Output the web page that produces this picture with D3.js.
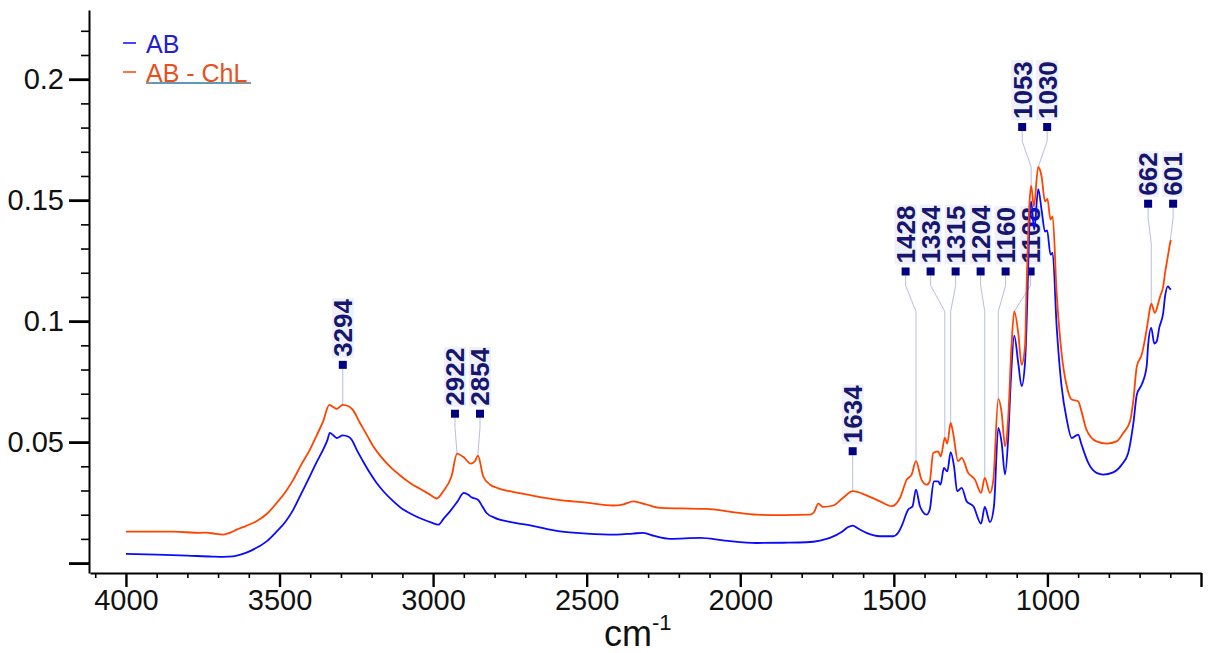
<!DOCTYPE html>
<html>
<head>
<meta charset="utf-8">
<script src="https://cdn.jsdelivr.net/npm/d3@7"></script>
<style>
    body { margin: 0; background: #fff; }
    svg { display: block; font-family: "Liberation Sans", Arial, sans-serif; }
</style>
</head>
<body>
<div id="chart"></div>
<script>
// Series names and colours (legend order)
const seriesNames = ['AB', 'AB - ChL'];

// AB spectrum: [wavenumber (cm-1), absorbance]
const abSpectrum = [
    [4000, 0.0038], [3900, 0.0035], [3800, 0.0031], [3720, 0.0027], [3683, 0.0026],
    [3651, 0.0028], [3610, 0.0042], [3575, 0.0063], [3540, 0.0092], [3509, 0.0131],
    [3480, 0.0172], [3455, 0.0221], [3430, 0.0285], [3401, 0.0359], [3380, 0.0415],
    [3358, 0.0469], [3345, 0.0505], [3336, 0.0538], [3325, 0.0528], [3314, 0.0517],
    [3294, 0.0528], [3275, 0.0522], [3265, 0.0510], [3249, 0.0469], [3230, 0.0425],
    [3206, 0.0373], [3185, 0.0333], [3162, 0.0297], [3130, 0.0256], [3097, 0.0221],
    [3065, 0.0199], [3032, 0.0180], [3005, 0.0167], [2983, 0.0159], [2965, 0.0185],
    [2945, 0.0214], [2922, 0.0252], [2900, 0.0290], [2885, 0.0282], [2875, 0.0272],
    [2854, 0.0262], [2840, 0.0235], [2826, 0.0207], [2799, 0.0187], [2750, 0.0170],
    [2680, 0.0155], [2587, 0.0131], [2500, 0.0122], [2403, 0.0118], [2350, 0.0122],
    [2316, 0.0125], [2280, 0.0112], [2229, 0.0100], [2131, 0.0104], [2050, 0.0093],
    [1947, 0.0083], [1860, 0.0084], [1784, 0.0086], [1740, 0.0093], [1708, 0.0104],
    [1670, 0.0128], [1650, 0.0148], [1634, 0.0155], [1615, 0.0142], [1589, 0.0125],
    [1545, 0.0111], [1502, 0.0111], [1486, 0.0125], [1475, 0.0152], [1453, 0.0221],
    [1439, 0.0235], [1428, 0.0304], [1415, 0.0235], [1393, 0.0200], [1383, 0.0221],
    [1370, 0.0338], [1356, 0.0338], [1348, 0.0324], [1337, 0.0393], [1326, 0.0379],
    [1315, 0.0458], [1304, 0.0400], [1294, 0.0297], [1279, 0.0311], [1263, 0.0255],
    [1241, 0.0235], [1216, 0.0163], [1204, 0.0232], [1187, 0.0169], [1174, 0.0235],
    [1160, 0.0559], [1149, 0.0497], [1138, 0.0366], [1128, 0.0510], [1119, 0.0758],
    [1108, 0.0940], [1095, 0.0827], [1084, 0.0731], [1073, 0.0827], [1068, 0.0979],
    [1063, 0.1200], [1059, 0.1390], [1053, 0.1495], [1043, 0.1378], [1030, 0.1546],
    [1019, 0.1460], [1008, 0.1370], [1001, 0.1375], [990, 0.1275], [983, 0.1282],
    [970, 0.0979], [954, 0.0731], [937, 0.0593], [921, 0.0517], [900, 0.0531],
    [889, 0.0490], [867, 0.0414], [840, 0.0373], [818, 0.0366], [786, 0.0375],
    [758, 0.0407], [737, 0.0455], [720, 0.0579], [709, 0.0696], [693, 0.0738],
    [677, 0.0813], [672, 0.0903], [662, 0.0972], [652, 0.0907], [644, 0.0917],
    [636, 0.0972], [623, 0.1034], [617, 0.1102], [608, 0.1144], [603, 0.1137],
    [598, 0.1130]
];

// AB - ChL spectrum: [wavenumber (cm-1), absorbance]
const chlSpectrum = [
    [4000, 0.0130], [3846, 0.0130], [3759, 0.0125], [3737, 0.0126], [3710, 0.0121],
    [3683, 0.0118], [3660, 0.0126], [3640, 0.0138], [3610, 0.0153], [3575, 0.0173],
    [3540, 0.0205], [3509, 0.0249], [3480, 0.0295], [3455, 0.0345], [3430, 0.0405],
    [3401, 0.0469], [3380, 0.0525], [3358, 0.0586], [3338, 0.0654], [3325, 0.0645],
    [3314, 0.0637], [3294, 0.0654], [3275, 0.0648], [3262, 0.0634], [3238, 0.0579],
    [3215, 0.0528], [3195, 0.0483], [3170, 0.0440], [3141, 0.0400], [3108, 0.0363],
    [3075, 0.0331], [3040, 0.0305], [3010, 0.0283], [2988, 0.0267], [2967, 0.0297],
    [2940, 0.0359], [2922, 0.0452], [2902, 0.0439], [2877, 0.0411], [2864, 0.0421],
    [2854, 0.0444], [2837, 0.0359], [2815, 0.0325], [2790, 0.0310], [2750, 0.0297],
    [2680, 0.0280], [2598, 0.0262], [2500, 0.0250], [2414, 0.0238], [2380, 0.0243],
    [2348, 0.0255], [2310, 0.0244], [2262, 0.0228], [2190, 0.0226], [2110, 0.0224],
    [2030, 0.0212], [1947, 0.0200], [1860, 0.0198], [1773, 0.0200], [1760, 0.0210],
    [1746, 0.0246], [1730, 0.0232], [1697, 0.0238], [1665, 0.0270], [1634, 0.0297],
    [1589, 0.0280], [1545, 0.0255], [1507, 0.0235], [1480, 0.0269], [1458, 0.0345],
    [1442, 0.0366], [1428, 0.0421], [1410, 0.0345], [1393, 0.0324], [1383, 0.0338],
    [1372, 0.0455], [1356, 0.0462], [1347, 0.0441], [1334, 0.0517], [1326, 0.0494],
    [1315, 0.0579], [1307, 0.0538], [1291, 0.0421], [1279, 0.0435], [1258, 0.0373],
    [1236, 0.0345], [1216, 0.0290], [1204, 0.0352], [1187, 0.0290], [1176, 0.0345],
    [1160, 0.0679], [1149, 0.0621], [1138, 0.0483], [1128, 0.0593], [1117, 0.0896],
    [1108, 0.1040], [1095, 0.0951], [1084, 0.0820], [1073, 0.0896], [1068, 0.1130],
    [1059, 0.1474], [1053, 0.1560], [1044, 0.1474], [1030, 0.1637], [1019, 0.1598],
    [1008, 0.1495], [1000, 0.1505], [990, 0.1420], [983, 0.1433], [970, 0.1117],
    [954, 0.0869], [937, 0.0731], [921, 0.0676], [900, 0.0669], [889, 0.0627],
    [873, 0.0552], [840, 0.0503], [807, 0.0494], [775, 0.0503], [753, 0.0538],
    [731, 0.0586], [720, 0.0676], [709, 0.0813], [693, 0.0862], [677, 0.0965],
    [672, 0.1006], [662, 0.1072], [650, 0.1034], [639, 0.1075], [633, 0.1102],
    [623, 0.1144], [617, 0.1199], [606, 0.1282], [601, 0.1320], [598, 0.1335]
];

// Peak labels, grouped the way they are stacked on the plot
const peakGroups = [
    [3294],
    [2922, 2854],
    [1634],
    [1428, 1334, 1315, 1204, 1160, 1108],
    [1053, 1030],
    [662, 601]
];

// Tick values
const xTicks = [4000, 3500, 3000, 2500, 2000, 1500, 1000];
const yTicks = [0.05, 0.1, 0.15, 0.2];

const width = 1209;
const height = 653;
const colors = ['#0a0aff', '#ff4400'];
const labelColor = '#16166e';

const svg = d3.select('#chart')
    .append('svg')
    .attr('width', width)
    .attr('height', height);

// Scales (wavenumber axis reversed)
const x = d3.scaleLinear().domain([4117, 500]).range([90, 1201]);
const y = d3.scaleLinear().domain([-0.0041, 0.2286]).range([573, 10]);

// Linear lookup of a spectrum value at a given wavenumber
function valueAt(series, wn) {
    for (let i = 0; i < series.length - 1; i++) {
        const a = series[i], b = series[i + 1];
        if (wn <= a[0] && wn >= b[0]) {
            const t = (a[0] - wn) / (a[0] - b[0]);
            return a[1] + t * (b[1] - a[1]);
        }
    }
    return series[series.length - 1][1];
}

// X axis: major + minor ticks
const xMinor = d3.range(4100, 500, -100).filter(v => v % 500 !== 0);
svg.append('g')
    .attr('transform', 'translate(0,573)')
    .call(d3.axisBottom(x).tickValues(xMinor).tickSize(5).tickFormat(''))
    .call(g => g.select('.domain').remove())
    .call(g => g.selectAll('line').attr('stroke-width', 1.6));

const xAxis = svg.append('g')
    .attr('transform', 'translate(0,573)')
    .call(d3.axisBottom(x)
        .tickValues([...xTicks, 500])
        .tickFormat(d => d === 500 ? '' : d)
        .tickSize(14)
        .tickSizeOuter(0)
        .tickPadding(2));
xAxis.select('.domain').attr('stroke-width', 2);
xAxis.selectAll('line').attr('stroke-width', 2.4);
xAxis.selectAll('text')
    .attr('font-size', 29)
    .attr('font-family', '"Liberation Sans", Arial, sans-serif')
    .attr('fill', '#111');

// Y axis: major + minor ticks
const yMinor = d3.range(0.01, 0.225, 0.01).filter(v => Math.abs(v * 20 - Math.round(v * 20)) > 1e-6);
svg.append('g')
    .attr('transform', 'translate(89,0)')
    .call(d3.axisLeft(y).tickValues(yMinor).tickSize(8).tickFormat(''))
    .call(g => g.select('.domain').remove())
    .call(g => g.selectAll('line').attr('stroke-width', 1.6));

const yAxis = svg.append('g')
    .attr('transform', 'translate(89,0)')
    .call(d3.axisLeft(y)
        .tickValues([0, ...yTicks])
        .tickFormat(d => d === 0 ? '' : String(d))
        .tickSize(20)
        .tickSizeOuter(0)
        .tickPadding(5));
yAxis.select('.domain').attr('stroke-width', 2);
yAxis.selectAll('line').attr('stroke-width', 2.8);
yAxis.selectAll('text')
    .attr('font-size', 29)
    .attr('font-family', '"Liberation Sans", Arial, sans-serif')
    .attr('fill', '#111');

// X axis title
const xTitle = svg.append('text')
    .attr('x', 604)
    .attr('y', 646)
    .attr('font-size', 36)
    .attr('fill', '#111')
    .text('cm');
xTitle.append('tspan')
    .attr('font-size', 22)
    .attr('dy', -16)
    .text('-1');

// Peak labels: squares, leaders and rotated numbers
const labelG = svg.append('g');
peakGroups.forEach(group => {
    const peaks = group.map(wn => ({ wn, px: x(wn), py: y(valueAt(chlSpectrum, wn)) }));
    const cx = d3.mean(peaks, p => p.px);
    const sy = d3.min(peaks, p => p.py) - 40;
    peaks.forEach((p, i) => {
        const sx = cx + (i - (peaks.length - 1) / 2) * 25;

        // Leader line
        labelG.append('path')
            .attr('d', `M${sx},${sy + 4}L${sx},${sy + 14}L${p.px},${sy + 40}L${p.px},${p.py}`)
            .attr('fill', 'none')
            .attr('stroke', '#b9bde0')
            .attr('stroke-width', 1);

        // Marker square
        labelG.append('rect')
            .attr('x', sx - 4)
            .attr('y', sy - 4)
            .attr('width', 8)
            .attr('height', 8)
            .attr('fill', '#000080');

        // Rotated label with pale background
        const tg = labelG.append('g')
            .attr('transform', `translate(${sx},${sy - 8}) rotate(-90)`);
        const bg = tg.append('rect').attr('fill', '#eef0fa');
        const t = tg.append('text')
            .attr('font-size', 26)
            .attr('font-weight', 'bold')
            .attr('dy', '0.36em')
            .attr('fill', labelColor)
            .text(p.wn);
        const len = t.node().getComputedTextLength();
        bg.attr('x', -1).attr('y', -11).attr('width', len + 2).attr('height', 22);
    });
});

// Spectra
const line = d3.line()
    .x(d => x(d[0]))
    .y(d => y(d[1]))
    .curve(d3.curveMonotoneX);

[abSpectrum, chlSpectrum].forEach((series, i) => {
    svg.append('path')
        .datum(series)
        .attr('d', line)
        .attr('fill', 'none')
        .attr('stroke', colors[i])
        .attr('stroke-width', 1.8)
        .attr('stroke-linejoin', 'round');
});

// Legend
const legend = svg.append('g');
seriesNames.forEach((name, i) => {
    const ly = 43 + i * 29;
    legend.append('line')
        .attr('x1', 123).attr('x2', 136)
        .attr('y1', ly).attr('y2', ly)
        .attr('stroke', colors[i])
        .attr('stroke-width', 1.5);
    legend.append('text')
        .attr('x', 146)
        .attr('y', ly + 10)
        .attr('font-size', 25)
        .attr('fill', i === 0 ? '#2020d0' : '#e8501e')
        .text(name);
});
// Selection underline under the last legend entry
legend.append('line')
    .attr('x1', 146).attr('x2', 251).attr('y1', 83).attr('y2', 83)
    .attr('stroke', '#222').attr('stroke-width', 1);
legend.append('line')
    .attr('x1', 152).attr('x2', 240).attr('y1', 83).attr('y2', 83)
    .attr('stroke', '#2aa3d8').attr('stroke-width', 1);
</script>
</body>
</html>
